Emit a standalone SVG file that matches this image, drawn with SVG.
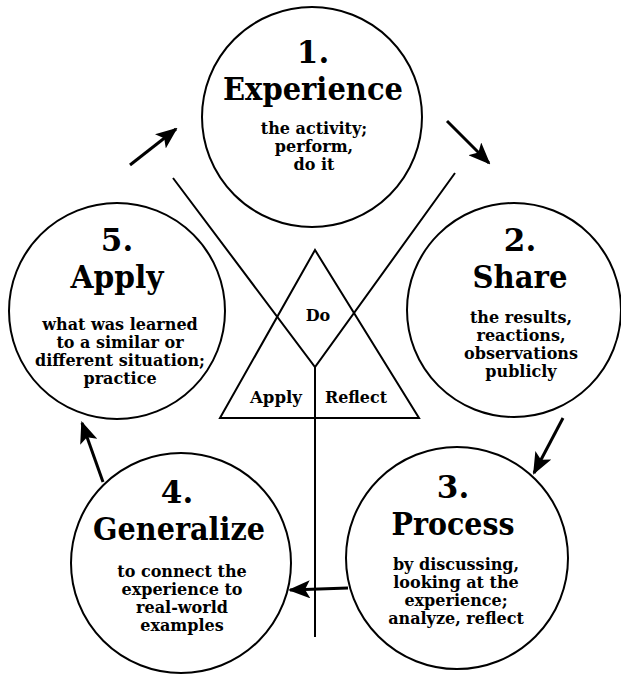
<svg xmlns="http://www.w3.org/2000/svg" width="621" height="675" viewBox="0 0 621 675">
<style>
.c{fill:none;stroke:#000;stroke-width:2}
.ln{fill:none;stroke:#000;stroke-width:2}
.ar{fill:none;stroke:#000;stroke-width:3;marker-end:url(#ah)}
text{font-family:"DejaVu Serif","Liberation Serif",serif;font-weight:bold;fill:#000;text-anchor:middle}
.n{font-size:31px}
.t{font-size:31px}
.s{font-size:16px}
.l{font-size:16px}
</style>
<defs>
<marker id="ah" markerUnits="userSpaceOnUse" markerWidth="22" markerHeight="18" viewBox="0 0 22 18" refX="20" refY="9" orient="auto">
<path d="M0,0 L22,9 L0,18 L5,9 z" fill="#000"/>
</marker>
</defs>
<rect width="621" height="675" fill="#fff"/>
<g id="center">
<polygon class="ln" points="315,250 220,418 419,418"/>
<polyline class="ln" points="173,178 315,367 455,173"/>
<line class="ln" x1="315" y1="367" x2="315" y2="637"/>
<text class="l" x="318" y="321">Do</text>
<text class="l" x="276" y="403" textLength="52" lengthAdjust="spacingAndGlyphs">Apply</text>
<text class="l" x="356" y="403" textLength="62" lengthAdjust="spacingAndGlyphs">Reflect</text>
</g>
<g id="node1">
<circle class="c" cx="312" cy="117" r="110"/>
<text class="n" x="313" y="63">1.</text>
<text class="t" x="313" y="100" textLength="180" lengthAdjust="spacingAndGlyphs">Experience</text>
<text class="s" x="314" y="134">the activity;</text>
<text class="s" x="314" y="152">perform,</text>
<text class="s" x="314" y="170">do it</text>
</g>
<g id="node2">
<circle class="c" cx="514" cy="310" r="107"/>
<text class="n" x="520" y="251">2.</text>
<text class="t" x="520" y="288" textLength="95" lengthAdjust="spacingAndGlyphs">Share</text>
<text class="s" x="521" y="323">the results,</text>
<text class="s" x="521" y="341">reactions,</text>
<text class="s" x="521" y="359">observations</text>
<text class="s" x="521" y="377">publicly</text>
</g>
<g id="node3">
<circle class="c" cx="457" cy="558" r="111"/>
<text class="n" x="453" y="498">3.</text>
<text class="t" x="453" y="535" textLength="123" lengthAdjust="spacingAndGlyphs">Process</text>
<text class="s" x="456" y="570">by discussing,</text>
<text class="s" x="456" y="588">looking at the</text>
<text class="s" x="456" y="606">experience;</text>
<text class="s" x="456" y="624">analyze, reflect</text>
</g>
<g id="node4">
<circle class="c" cx="181" cy="563" r="110"/>
<text class="n" x="177" y="503">4.</text>
<text class="t" x="179" y="540" textLength="172" lengthAdjust="spacingAndGlyphs">Generalize</text>
<text class="s" x="182" y="577">to connect the</text>
<text class="s" x="182" y="595">experience to</text>
<text class="s" x="182" y="613">real-world</text>
<text class="s" x="182" y="631">examples</text>
</g>
<g id="node5">
<circle class="c" cx="117" cy="311" r="108"/>
<text class="n" x="117" y="251">5.</text>
<text class="t" x="117" y="288" textLength="93" lengthAdjust="spacingAndGlyphs">Apply</text>
<text class="s" x="120" y="330">what was learned</text>
<text class="s" x="120" y="348">to a similar or</text>
<text class="s" x="120" y="366">different situation;</text>
<text class="s" x="120" y="384">practice</text>
</g>
<g id="connectors">
<line class="ar" x1="130" y1="165" x2="176" y2="129"/>
<line class="ar" x1="447" y1="121" x2="489" y2="163"/>
<line class="ar" x1="563" y1="418" x2="534" y2="473"/>
<line class="ar" x1="348" y1="588" x2="290" y2="590"/>
<line class="ar" x1="103" y1="482" x2="82" y2="423"/>
</g>
</svg>
